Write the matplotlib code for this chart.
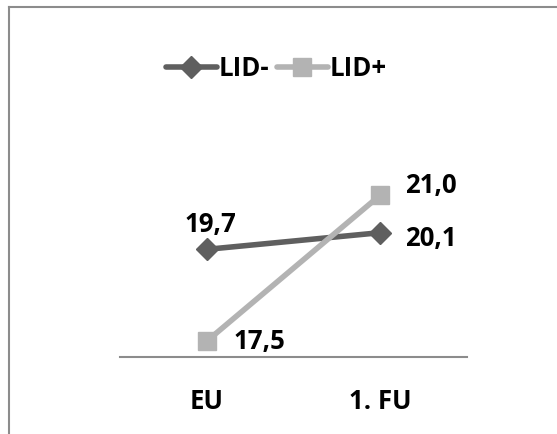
import matplotlib.pyplot as plt
from matplotlib.lines import Line2D

categories = ['EU', '1. FU']
lid_minus = [19.7, 20.1]
lid_plus = [17.5, 21.0]
series_names = ['LID-', 'LID+']

plt.rcParams['font.family'] = ['Open Sans', 'DejaVu Sans']

fig = plt.figure(figsize=(5.57, 4.34), dpi=100)
# outer chart frame
fig.add_artist(Line2D([9/557, 9/557], [0, 1 - 7/434], color='#8c8c8c', lw=1.5))
fig.add_artist(Line2D([9/557, 1], [1 - 7/434, 1 - 7/434], color='#8c8c8c', lw=1.5))

ax = fig.add_axes([120/557, 77/434, 347/557, 247/434])
x = range(len(categories))

dark = '#5f5f5f'
light = '#b3b3b3'
ax.plot(x, lid_minus, color=dark, lw=4, marker='D', ms=11, label=series_names[0], solid_capstyle='round')
ax.plot(x, lid_plus, color=light, lw=4, marker='s', ms=12.5, label=series_names[1], solid_capstyle='round')

fmt = lambda v: f'{v:.1f}'.replace('.', ',')
lab = dict(fontsize=18.5, fontweight='bold', color='black')
ax.annotate(fmt(lid_minus[0]), (0, lid_minus[0]), xytext=(3, 18), textcoords='offset points', ha='center', va='center', **lab)
ax.annotate(fmt(lid_minus[1]), (1, lid_minus[1]), xytext=(18, -4), textcoords='offset points', ha='left', va='center', **lab)
ax.annotate(fmt(lid_plus[0]), (0, lid_plus[0]), xytext=(19, 0), textcoords='offset points', ha='left', va='center', **lab)
ax.annotate(fmt(lid_plus[1]), (1, lid_plus[1]), xytext=(18, 7), textcoords='offset points', ha='left', va='center', **lab)

ax.set_xlim(-0.5, 1.5)
ax.set_ylim(17.12, 23.04)
ax.set_xticks(list(x))
ax.set_xticklabels(categories, fontsize=18.5, fontweight='bold')
ax.tick_params(axis='x', length=0, pad=22)
ax.set_yticks([])
for s in ['top', 'left', 'right']:
    ax.spines[s].set_visible(False)
ax.spines['bottom'].set_color('#8c8c8c')
ax.spines['bottom'].set_linewidth(1.5)

leg = fig.legend(loc='center', bbox_to_anchor=(276/557, 1 - 68/434), ncol=2, frameon=False,
                 prop={'size': 18.5, 'weight': 'bold'}, handlelength=2.0, handletextpad=0.05,
                 columnspacing=0.3)

fig.savefig('out.png', dpi=100)
